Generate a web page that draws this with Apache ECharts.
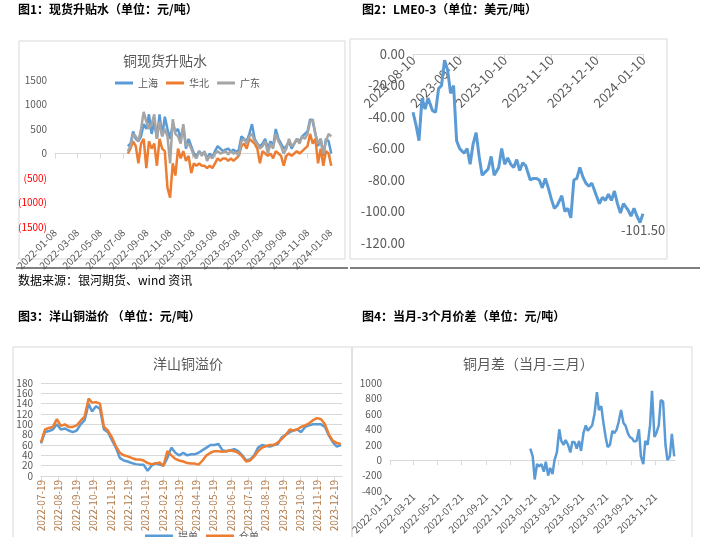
<!DOCTYPE html><html><head><meta charset="utf-8">
<script src="https://cdn.jsdelivr.net/npm/echarts@6/dist/echarts.min.js"></script>
<style>body{margin:0;background:#fff}#c{width:708px;height:537px}</style></head><body><div id="c"></div>
<script>
// ---- data ----
const c1Start='2022-07-20', c1End='2024-01-10';
const c1Shanghai=[150,200,450,300,250,350,600,500, 800,400,650,300,800,350,750,500,300, 600,450,500,300,550,100,300,150, 0,-50,50,-20,30,-100,0,-80,50, 150,100,50,80,100,40,80,30,70, 350,300,250,400,600,300,200,150, 200,300,100,250,150,500,300,200,100, 150,250,100,200,300,250,350,400,450, 700,650,400,150,300,-50,300,250,0];
const c1Huabei=[0,100,250,150,-200,200,300,-300, 250,100,200,-250,300,100,50,-700,-900, -200,-450,100,-100,50,-150,-50,-400, -200,-250,-200,-250,-250,-300,-250,-300,-200, -100,-150,-100,-100,-150,-100,-150,-100,-50, 150,200,100,300,250,200,100,-200, 50,0,-50,0,-100,50,0,-50,-250, -50,0,-50,0,50,0,50,100,150, 400,200,300,-200,100,-250,50,0,-250];
const c1Guangdong=[50,150,400,350,250,500,850,650, 500,600,800,300,650,350,500,350,-200, 700,400,350,200,600,150,200,100, -50,-100,50,-50,50,-150,-50,-100,0, 50,0,20,50,-20,50,0,20,-50, 250,300,200,350,400,250,200,100, 150,250,0,200,100,400,250,150,0, 100,300,150,200,300,200,350,300,400, 650,700,400,200,300,0,250,400,350];
const c2Start='2023-08-10', c2End='2024-01-10';
const c2Lme=[-37,-45,-55,-28,-35,-28,-36,-37,-22,-20,-4,-10,-25,-20,-55,-60,-63,-60,-70,-57,-50,-65,-77,-75,-73,-65,-77,-72,-60,-70,-66,-70,-72,-67,-74,-69,-71,-80,-79,-79,-80,-85,-79,-85,-92,-98,-96,-90,-100,-98,-104,-80,-79,-72,-78,-82,-84,-82,-90,-95,-91,-93,-89,-93,-87,-95,-101,-95,-99,-103,-98,-103,-107,-101.5];
const c3Start='2022-07-19', c3End='2023-12-30';
const c3Tidan=[63,85,87,90,100, 90,92,88,85,88, 100,108,140,125, 135,130,90,85, 70,55,35,30, 28,25,23,22,22, 10,20,25,22,20, 35,55,45,40, 45,40,42,42, 45,50,55,60,60, 62,50,48,50, 52,48,40,30, 32,40,55,60, 58,57,60,62,75, 80,85,88,90, 85,95,98,100,100, 100,95,78,65, 57,60];
const c3Cangdan=[65,90,93,95,110, 97,100,95,95,98, 107,115,150,142, 143,140,95,88, 75,58,45,40, 38,35,32,32,30, 25,23,24,26,20, 48,40,33,30, 28,25,24,24, 22,30,40,45,48, 48,47,48,50, 48,45,38,28, 30,38,48,55, 58,60,60,65,72, 80,90,88,90, 95,98,102,108,112, 110,100,80,68, 64,62];
const c4Start='2023-01-10', c4End='2024-01-08';
const c4Spread=[150,50,-250,-50,-80, -50,-150,-20,-200,-100, -180,0,100,400,250, 200,260,200,100,240, 230,150,250,120,350,450, 380,420,450,600,880,650, 700,500,300,170,200, 380,350,400,500,650,480, 450,350,300,280,240, 250,400,50,-50,250, 200,450,900,300,350, 450,780,760,200,0, 50,340,50];
// ---- helpers ----
function ds(t){return new Date(t).toISOString().slice(0,10);}
function days(a,b){const r=[];let t=Date.parse(a+'T00:00:00Z'),e=Date.parse(b+'T00:00:00Z');for(;t<=e;t+=864e5)r.push(ds(t));return r;}
function place(a,b,vals){const s=Date.parse(a+'T00:00:00Z'),e=Date.parse(b+'T00:00:00Z');const n=vals.length;return vals.map((v,i)=>[ds(s+Math.round((e-s)/864e5*i/(n-1))*864e5),v]);}
const ax1=days('2022-01-08','2024-01-12'), ax2=days('2023-08-10','2024-01-10'), ax3=days('2022-07-19','2024-01-01'), ax4=days('2022-01-21','2024-01-10');
const odd=['01','03','05','07','09','11'];
const f1=(i,v)=>v.slice(8)==='08'&&odd.includes(v.slice(5,7));
const f2=(i,v)=>v.slice(8)==='10';
const f3=(i,v)=>v.slice(8)==='19';
const f4=(i,v)=>v.slice(8)==='21'&&odd.includes(v.slice(5,7));
const B='#5b9bd5',O='#ed7d31',G='#a5a5a5',T='#595959';
function xa(idx,data,fn,rot,fs,col){return {type:'category',gridIndex:idx,data:data,boundaryGap:false,axisLine:{onZero:true,lineStyle:{color:'#d9d9d9'}},axisTick:{interval:fn,lineStyle:{color:'#d9d9d9'}},axisLabel:{interval:fn,rotate:rot,fontSize:fs,color:col||T,margin:4},splitLine:{show:false}};}
const x2=xa(1,ax2,f2,-45,13);x2.position='top';x2.axisLine.onZero=false;x2.axisLabel.inside=true;x2.axisTick.inside=true;x2.axisLabel.margin=4;x2.axisLabel.align='right';x2.axisLabel.verticalAlign='middle';
const chart=echarts.init(document.getElementById('c'));
const hd=(x,y,t)=>({type:'text',left:x,top:y,style:{text:t,font:'bold 12px "Noto Sans CJK SC"',fill:'#000'}});
const box=(x,y,w,h)=>({type:'rect',shape:{x:x,y:y,width:w,height:h},style:{fill:'none',stroke:'#d9d9d9',lineWidth:1},z:-1});
chart.setOption({
 animation:false,
 textStyle:{fontFamily:'"Noto Sans CJK SC", sans-serif'},
 graphic:[hd(18,3,'图1：现货升贴水（单位：元/吨）'),hd(362,3,'图2：LME0-3（单位：美元/吨）'),
  hd(18,310,'图3：洋山铜溢价 （单位：元/吨）'),hd(362,310,'图4：当月-3个月价差（单位：元/吨）'),
  box(19,41,326,218),box(350,39,317,220),box(13,347,339,195),box(352,347,340,195),
  {type:'line',shape:{x1:16,y1:268,x2:348,y2:268},style:{stroke:'#000',lineWidth:1}},
  {type:'line',shape:{x1:350,y1:268,x2:700,y2:268},style:{stroke:'#000',lineWidth:1}},
  {type:'text',left:18,top:274,style:{text:'数据来源：银河期货、wind 资讯',font:'12px "Noto Sans CJK SC"',fill:'#000'}}],
 title:[{text:'铜现货升贴水',left:118,top:49,textStyle:{fontSize:14,fontWeight:'normal',color:T}},
  {text:'洋山铜溢价',left:148,top:352,textStyle:{fontSize:14,fontWeight:'normal',color:T}},
  {text:'铜月差（当月-三月）',left:458,top:352,textStyle:{fontSize:14,fontWeight:'normal',color:T}}],
 legend:[{data:['上海','华北','广东'],left:110,top:73,itemWidth:18,itemHeight:3,itemGap:8,icon:'rect',textStyle:{fontSize:10,color:T}},
  {data:['提单','仓单'],left:140,top:526,itemWidth:28,itemHeight:3,icon:'rect',textStyle:{fontSize:10,color:T}}],
 grid:[{left:55,top:80,width:277,height:147},{left:413,top:54,width:230,height:189},
  {left:41,top:383,width:301,height:93},{left:390,top:383,width:285,height:154}],
 xAxis:[xa(0,ax1,f1,45,10),x2,xa(2,ax3,f3,90,10,'#b07a4a'),xa(3,ax4,f4,45,10)],
 yAxis:[
  {type:'value',gridIndex:0,min:-1500,max:1500,interval:500,splitLine:{show:false},axisLine:{show:false},axisTick:{show:false},
   axisLabel:{fontSize:10,formatter:v=>v<0?'('+(-v)+')':String(v),color:v=>v<0?'#ff0000':T}},
  {type:'value',gridIndex:1,min:-120,max:0,interval:20,splitLine:{show:false},axisLine:{show:false},axisTick:{show:false},
   axisLabel:{fontSize:13,color:T,formatter:v=>v.toFixed(2)}},
  {type:'value',gridIndex:2,min:0,max:180,interval:20,splitLine:{lineStyle:{color:'#d9d9d9'}},axisLine:{show:false},axisTick:{show:false},axisLabel:{fontSize:10,color:T}},
  {type:'value',gridIndex:3,min:-400,max:1000,interval:200,splitLine:{show:false},axisLine:{show:false},axisTick:{show:false},axisLabel:{fontSize:10,color:T,formatter:v=>String(v)}}],
 series:[
  {name:'上海',type:'line',xAxisIndex:0,yAxisIndex:0,data:place(c1Start,c1End,c1Shanghai),showSymbol:false,lineStyle:{width:2.5,color:B},itemStyle:{color:B}},
  {name:'华北',type:'line',xAxisIndex:0,yAxisIndex:0,data:place(c1Start,c1End,c1Huabei),showSymbol:false,lineStyle:{width:2.5,color:O},itemStyle:{color:O}},
  {name:'广东',type:'line',xAxisIndex:0,yAxisIndex:0,data:place(c1Start,c1End,c1Guangdong),showSymbol:false,lineStyle:{width:2.5,color:G},itemStyle:{color:G}},
  {name:'LME',type:'line',xAxisIndex:1,yAxisIndex:1,data:place(c2Start,c2End,c2Lme),showSymbol:false,lineStyle:{width:3,color:B},itemStyle:{color:B},
   endLabel:{show:true,formatter:p=>p.value[1].toFixed(2),color:T,fontSize:13,offset:[-30,16]}},
  {name:'提单',type:'line',xAxisIndex:2,yAxisIndex:2,data:place(c3Start,c3End,c3Tidan),showSymbol:false,lineStyle:{width:2.5,color:B},itemStyle:{color:B}},
  {name:'仓单',type:'line',xAxisIndex:2,yAxisIndex:2,data:place(c3Start,c3End,c3Cangdan),showSymbol:false,lineStyle:{width:2.5,color:O},itemStyle:{color:O}},
  {name:'月差',type:'line',xAxisIndex:3,yAxisIndex:3,data:place(c4Start,c4End,c4Spread),showSymbol:false,lineStyle:{width:2.5,color:B},itemStyle:{color:B}}]
});
</script></body></html>
